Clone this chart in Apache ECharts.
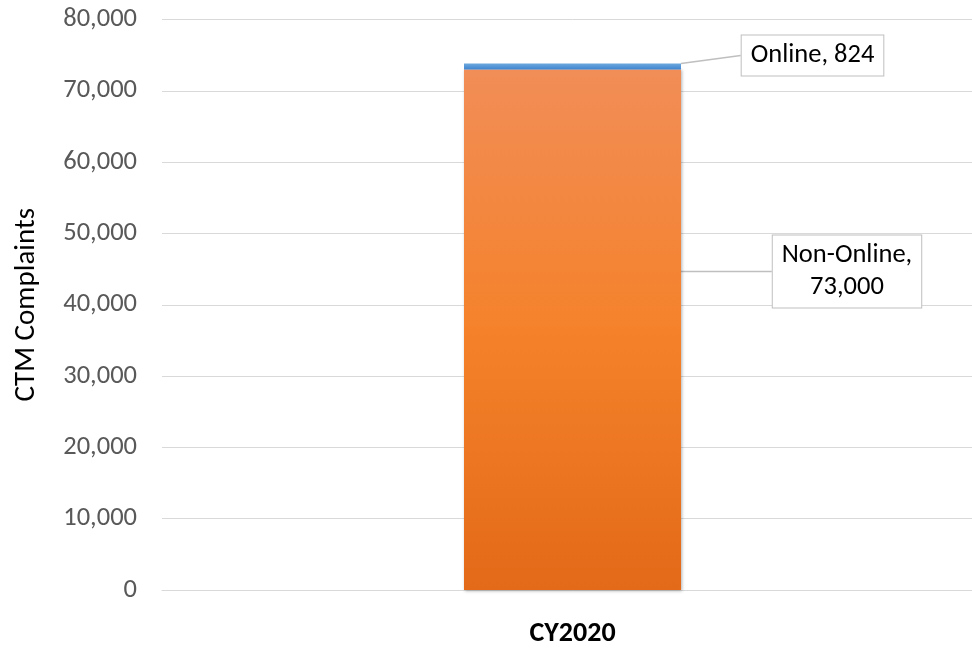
<!DOCTYPE html>
<html>
<head>
<meta charset="utf-8">
<script src="https://cdn.jsdelivr.net/npm/echarts@6/dist/echarts.min.js"></script>
<style>html,body{margin:0;padding:0;background:#fff;overflow:hidden}#c{width:984px;height:648px}</style>
</head>
<body>
<div id="c"></div>
<script>
const categories = ['CY2020'];
const nonOnline = [73000];
const online = [824];
const seriesNames = ['Non-Online', 'Online'];

const fmt = v => v.toLocaleString('en-US');
const FONT = 'Carlito, "Liberation Sans", "Open Sans", sans-serif';

const chart = echarts.init(document.getElementById('c'));
chart.setOption({
  animation: false,
  grid: { left: 162, top: 19.5, width: 821, height: 570.5 },
  xAxis: {
    type: 'category',
    data: categories,
    axisLine: { lineStyle: { color: '#d9d9d9', width: 1 } },
    axisTick: { show: false },
    axisLabel: { color: '#000', fontWeight: 'bold', fontSize: 28, fontFamily: FONT, margin: 30 }
  },
  yAxis: {
    type: 'value',
    min: 0, max: 80000, interval: 10000,
    name: 'CTM Complaints',
    nameLocation: 'middle',
    nameGap: 121,
    nameRotate: 90,
    nameTextStyle: { color: '#000', fontSize: 29, fontFamily: FONT },
    axisLine: { show: false },
    axisTick: { show: false },
    axisLabel: { color: '#595959', fontSize: 26.5, fontFamily: FONT, margin: 25, formatter: v => fmt(v) },
    splitLine: { lineStyle: { color: '#d9d9d9', width: 1 } }
  },
  series: [
    {
      name: seriesNames[0],
      type: 'bar',
      stack: 'total',
      barWidth: 217,
      data: nonOnline,
      itemStyle: {
        color: new echarts.graphic.LinearGradient(0, 0, 0, 1, [
          { offset: 0, color: '#f18d57' },
          { offset: 0.5, color: '#f5822b' },
          { offset: 1, color: '#e36a18' }
        ]),
        shadowColor: 'rgba(0,0,0,0.3)', shadowBlur: 3, shadowOffsetX: 1, shadowOffsetY: 1
      },
      label: {
        show: true,
        formatter: p => p.seriesName + ',\n' + fmt(p.value),
        color: '#000', fontSize: 26.5, fontFamily: FONT, lineHeight: 32, align: 'center',
        backgroundColor: '#fff', borderColor: '#bfbfbf', borderWidth: 1,
        padding: [4, 9, 4, 9]
      },
      labelLayout: { x: 847, y: 271.5, align: 'center', verticalAlign: 'middle' },
      labelLine: { show: true, lineStyle: { color: '#bfbfbf', width: 1.5 } }
    },
    {
      name: seriesNames[1],
      type: 'bar',
      stack: 'total',
      barWidth: 217,
      data: online,
      itemStyle: {
        color: new echarts.graphic.LinearGradient(0, 0, 0, 1, [
          { offset: 0, color: '#6ea8dd' },
          { offset: 1, color: '#3f85d0' }
        ])
      },
      label: {
        show: true,
        formatter: p => p.seriesName + ', ' + fmt(p.value),
        color: '#000', fontSize: 26.5, fontFamily: FONT, lineHeight: 32,
        backgroundColor: '#fff', borderColor: '#bfbfbf', borderWidth: 1,
        padding: [4, 9, 4, 9]
      },
      labelLayout: { x: 812.5, y: 55.5, align: 'center', verticalAlign: 'middle' },
      labelLine: { show: true, lineStyle: { color: '#bfbfbf', width: 1.5 } }
    }
  ]
});
</script>
</body>
</html>
